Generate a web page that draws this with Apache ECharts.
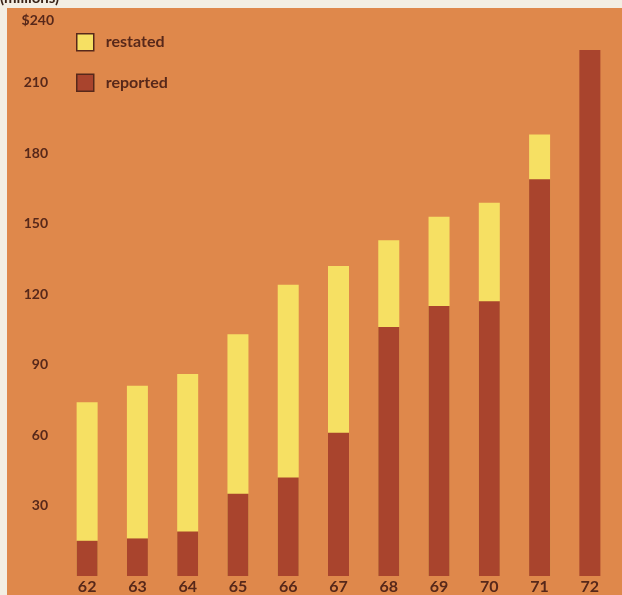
<!DOCTYPE html>
<html>
<head>
<meta charset="utf-8">
<script src="https://cdn.jsdelivr.net/npm/echarts@6/dist/echarts.min.js"></script>
<style>
  html, body { margin: 0; padding: 0; background: #f3eee3; }
  #chart { width: 622px; height: 595px; }
</style>
</head>
<body>
<div id="chart"></div>
<script>
// Fiscal years shown along the bottom
const years = ['62', '63', '64', '65', '66', '67', '68', '69', '70', '71', '72'];
// Restated totals (in $ millions); no restated figure for 72
const restated = [74, 81, 86, 103, 124, 132, 143, 153, 159, 188, null];
// Originally reported totals (in $ millions)
const reported = [15, 16, 19, 35, 42, 61, 106, 115, 117, 169, 224];
// Value axis range and step
const yMax = 240;
const yStep = 30;

const ink = '#57281a';
const fontFamily = 'Lato, "Open Sans", sans-serif';

const chart = echarts.init(document.getElementById('chart'));
chart.setOption({
  backgroundColor: '#f3eee3',
  animation: false,
  textStyle: { fontFamily: fontFamily },
  graphic: [
    {
      type: 'rect',
      z: -10,
      shape: { x: 7, y: 8, width: 615, height: 587 },
      style: { fill: '#df884b' }
    },
    {
      type: 'text',
      left: 0,
      top: -9,
      style: {
        text: '(millions)',
        fill: '#3a2418',
        font: 'bold 15px ' + fontFamily
      }
    }
  ],
  legend: {
    orient: 'vertical',
    left: 71,
    top: 28,
    itemWidth: 17,
    itemHeight: 17,
    itemGap: 22,
    icon: 'rect',
    selectedMode: false,
    itemStyle: { borderColor: ink, borderWidth: 1.5 },
    textStyle: { color: ink, fontSize: 16, fontWeight: 'bold', fontFamily: fontFamily, padding: [0, 0, 0, 7] },
    data: ['restated', 'reported']
  },
  grid: { left: 62, right: 7, top: 12.5, bottom: 18.5 },
  xAxis: {
    type: 'category',
    data: years,
    axisLine: { show: false },
    axisTick: { show: false },
    axisLabel: { color: ink, fontSize: 16, fontWeight: 'bold', margin: 3 }
  },
  yAxis: {
    type: 'value',
    min: 0,
    max: yMax,
    interval: yStep,
    splitLine: { show: false },
    axisLine: { show: false },
    axisTick: { show: false },
    axisLabel: {
      color: ink,
      fontSize: 14,
      fontWeight: 'bold',
      margin: 14,
      formatter: function (v) {
        if (v === 0) return '';
        if (v === yMax) return '{top|$' + v + '}';
        return String(v);
      },
      rich: {
        top: { color: ink, fontSize: 14, fontWeight: 'bold', padding: [16, -6, 0, 0] }
      }
    }
  },
  series: [
    {
      name: 'restated',
      type: 'bar',
      data: restated,
      barWidth: 21,
      barGap: '-100%',
      itemStyle: { color: '#f6e063' }
    },
    {
      name: 'reported',
      type: 'bar',
      data: reported,
      barWidth: 21,
      barGap: '-100%',
      itemStyle: { color: '#a9442d' }
    }
  ]
});
</script>
</body>
</html>
